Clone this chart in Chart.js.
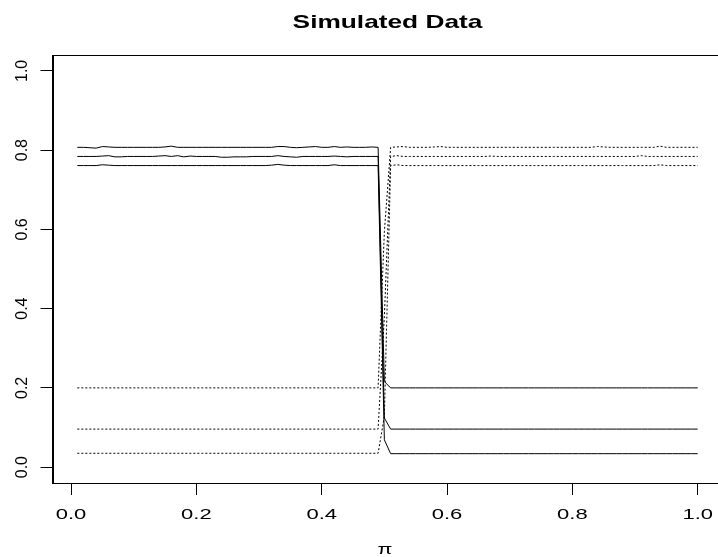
<!DOCTYPE html>
<html>
<head>
<meta charset="utf-8">
<script src="https://cdn.jsdelivr.net/npm/chart.js@4.4.0/dist/chart.umd.min.js"></script>
<style>
html, body { margin: 0; padding: 0; background: #fff; overflow: hidden; }
canvas { display: block; }
</style>
</head>
<body>
<canvas id="c" width="730" height="557"></canvas>
<script>
// simulated data, pi on x, 3 solid + 3 dotted curves
const xValues = [
  0.01,0.02,0.03,0.04,0.05,0.06,0.07,0.08,0.09,0.10,
  0.11,0.12,0.13,0.14,0.15,0.16,0.17,0.18,0.19,0.20,
  0.21,0.22,0.23,0.24,0.25,0.26,0.27,0.28,0.29,0.30,
  0.31,0.32,0.33,0.34,0.35,0.36,0.37,0.38,0.39,0.40,
  0.41,0.42,0.43,0.44,0.45,0.46,0.47,0.48,0.49,0.50,
  0.51,0.52,0.53,0.54,0.55,0.56,0.57,0.58,0.59,0.60,
  0.61,0.62,0.63,0.64,0.65,0.66,0.67,0.68,0.69,0.70,
  0.71,0.72,0.73,0.74,0.75,0.76,0.77,0.78,0.79,0.80,
  0.81,0.82,0.83,0.84,0.85,0.86,0.87,0.88,0.89,0.90,
  0.91,0.92,0.93,0.94,0.95,0.96,0.97,0.98,0.99,1.00
];

const solidTop = [
  .807,.807,.806,.805,.809,.808,.807,.807,.807,.807,
  .807,.807,.807,.807,.808,.810,.807,.807,.807,.807,
  .807,.807,.807,.807,.807,.807,.807,.807,.807,.807,
  .807,.807,.809,.809,.807,.806,.807,.808,.809,.807,
  .807,.809,.807,.808,.807,.807,.807,.808,.807,.216,
  .200,.200,.200,.200,.200,.200,.200,.200,.200,.200,
  .200,.200,.200,.200,.200,.200,.200,.200,.200,.200,
  .200,.200,.200,.200,.200,.200,.200,.200,.200,.200,
  .200,.200,.200,.200,.200,.200,.200,.200,.200,.200,
  .200,.200,.200,.200,.200,.200,.200,.200,.200,.200
];
const solidMid = [
  .784,.784,.784,.784,.785,.786,.783,.783,.784,.784,
  .784,.784,.784,.785,.786,.784,.786,.783,.785,.784,
  .784,.784,.784,.782,.782,.783,.783,.783,.784,.784,
  .784,.784,.786,.784,.783,.782,.784,.784,.784,.784,
  .784,.785,.784,.783,.784,.784,.784,.784,.784,.124,
  .096,.096,.096,.096,.096,.096,.096,.096,.096,.096,
  .096,.096,.096,.096,.096,.096,.096,.096,.096,.096,
  .096,.096,.096,.096,.096,.096,.096,.096,.096,.096,
  .096,.096,.096,.096,.096,.096,.096,.096,.096,.096,
  .096,.096,.096,.096,.096,.096,.096,.096,.096,.096
];
const solidLow = [
  .761,.761,.761,.761,.763,.762,.761,.761,.761,.761,
  .761,.761,.761,.761,.761,.761,.761,.761,.761,.761,
  .761,.761,.761,.761,.761,.761,.761,.761,.761,.761,
  .761,.762,.764,.762,.761,.761,.761,.761,.761,.761,
  .761,.763,.761,.761,.761,.761,.761,.761,.761,.069,
  .034,.034,.034,.034,.034,.034,.034,.034,.034,.034,
  .034,.034,.034,.034,.034,.034,.034,.034,.034,.034,
  .034,.034,.034,.034,.034,.034,.034,.034,.034,.034,
  .034,.034,.034,.034,.034,.034,.034,.034,.034,.034,
  .034,.034,.034,.034,.034,.034,.034,.034,.034,.034
];
const dotTop = [
  .200,.200,.200,.200,.200,.200,.200,.200,.200,.200,
  .200,.200,.200,.200,.200,.200,.200,.200,.200,.200,
  .200,.200,.200,.200,.200,.200,.200,.200,.200,.200,
  .200,.200,.200,.200,.200,.200,.200,.200,.200,.200,
  .200,.200,.200,.200,.200,.200,.200,.200,.200,.594,
  .807,.808,.809,.807,.807,.807,.807,.808,.809,.807,
  .807,.807,.807,.807,.807,.807,.807,.807,.807,.807,
  .807,.807,.807,.807,.807,.807,.807,.807,.807,.807,
  .807,.807,.807,.809,.808,.807,.807,.807,.807,.807,
  .807,.807,.807,.810,.807,.807,.807,.807,.807,.807
];
const dotMid = [
  .096,.096,.096,.096,.096,.096,.096,.096,.096,.096,
  .096,.096,.096,.096,.096,.096,.096,.096,.096,.096,
  .096,.096,.096,.096,.096,.096,.096,.096,.096,.096,
  .096,.096,.096,.096,.096,.096,.096,.096,.096,.096,
  .096,.096,.096,.096,.096,.096,.096,.096,.096,.380,
  .784,.786,.784,.784,.784,.784,.784,.784,.784,.784,
  .784,.784,.784,.784,.784,.784,.785,.784,.784,.784,
  .784,.784,.784,.784,.784,.784,.784,.784,.784,.784,
  .784,.784,.784,.784,.784,.784,.784,.784,.784,.784,
  .786,.784,.784,.784,.784,.784,.784,.784,.784,.784
];
const dotLow = [
  .035,.035,.035,.035,.035,.035,.035,.035,.035,.035,
  .035,.035,.035,.035,.035,.035,.035,.035,.035,.035,
  .035,.035,.035,.035,.035,.035,.035,.035,.035,.035,
  .035,.035,.035,.035,.035,.035,.035,.035,.035,.035,
  .035,.035,.035,.035,.035,.035,.035,.035,.035,.128,
  .761,.763,.761,.761,.761,.761,.761,.761,.761,.761,
  .761,.761,.761,.761,.761,.761,.761,.761,.761,.761,
  .761,.761,.761,.761,.761,.761,.761,.761,.761,.761,
  .761,.761,.761,.761,.761,.761,.761,.761,.761,.761,
  .761,.761,.761,.763,.761,.761,.761,.761,.761,.761
];

const xTicks = [0, 0.2, 0.4, 0.6, 0.8, 1.0];
const yTicks = [0, 0.2, 0.4, 0.6, 0.8, 1.0];
const xTickLabels = ['0.0', '0.2', '0.4', '0.6', '0.8', '1.0'];
const yTickLabels = ['0.0', '0.2', '0.4', '0.6', '0.8', '1.0'];

const FONT = "'Liberation Sans', Arial, sans-serif";

const pts = (ys) => xValues.map((x, i) => ({ x: x, y: ys[i] }));
const line = (ys, dashed) => ({
  data: pts(ys), borderColor: '#000', borderWidth: 1,
  borderDash: dashed ? [2, 2] : [], pointRadius: 0, tension: 0, fill: false,
});

// box + R-style text (text looks stretched horizontally in the original)
const rFrame = {
  id: 'rFrame',
  afterDraw(chart) {
    const { ctx, chartArea: a, scales } = chart;
    ctx.save();
    ctx.strokeStyle = '#000';
    ctx.lineWidth = 1;
    ctx.strokeRect(Math.round(a.left) + 0.5, Math.round(a.top) + 0.5,
      Math.round(a.right - a.left), Math.round(a.bottom - a.top));
    ctx.fillStyle = '#000';
    ctx.textAlign = 'center';
    ctx.textBaseline = 'alphabetic';

    const cx = (a.left + a.right) / 2;
    ctx.save();
    ctx.font = 'bold 18.5px ' + FONT;
    ctx.translate(cx, 28);
    ctx.scale(1.42, 1);
    ctx.fillText('Simulated Data', 0, 0);
    ctx.restore();

    ctx.font = '15.4px ' + FONT;
    xTicks.forEach((v, i) => {
      ctx.save();
      ctx.translate(scales.x.getPixelForValue(v), 519);
      ctx.scale(1.43, 1);
      ctx.fillText(xTickLabels[i], 0, 0);
      ctx.restore();
    });

    ctx.save();
    ctx.translate(385, 554);
    ctx.scale(1.4, 1);
    ctx.fillText('π', 0, 0);
    ctx.restore();

    ctx.font = '16px ' + FONT;
    yTicks.forEach((v, i) => {
      ctx.save();
      ctx.translate(27, scales.y.getPixelForValue(v));
      ctx.rotate(-Math.PI / 2);
      ctx.fillText(yTickLabels[i], 0, 0);
      ctx.restore();
    });
    ctx.restore();
  }
};

const axisOpts = (ticks, min, max) => ({
  type: 'linear', min: min, max: max,
  afterBuildTicks: (s) => { s.ticks = ticks.map(v => ({ value: v })); },
  ticks: { display: false },
  grid: { display: true, drawOnChartArea: false, drawTicks: true, tickLength: 12, color: '#000', lineWidth: 1 },
  border: { display: true, color: '#000', width: 1 },
});

new Chart(document.getElementById('c'), {
  type: 'line',
  data: {
    datasets: [
      line(solidTop, false), line(solidMid, false), line(solidLow, false),
      line(dotTop, true), line(dotMid, true), line(dotLow, true),
    ],
  },
  options: {
    responsive: false,
    animation: false,
    devicePixelRatio: 1,
    layout: { padding: { left: 40.5, top: 55, right: 7.5, bottom: 62 } },
    plugins: { legend: { display: false }, tooltip: { enabled: false }, title: { display: false } },
    scales: {
      x: axisOpts(xTicks, -0.0296, 1.0396),
      y: axisOpts(yTicks, -0.04, 1.04),
    },
  },
  plugins: [rFrame],
});
</script>
</body>
</html>
